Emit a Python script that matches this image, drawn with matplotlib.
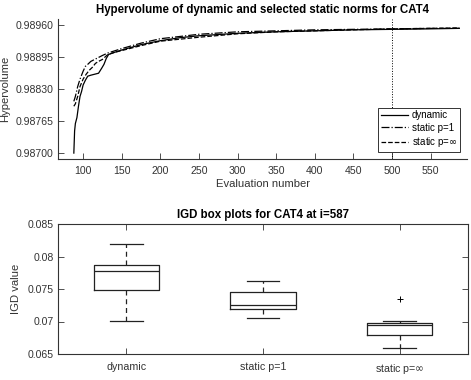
import numpy as np
import matplotlib
matplotlib.use("Agg")
import matplotlib.pyplot as plt
from matplotlib.ticker import FormatStrFormatter

plt.rcParams['font.family'] = ['Liberation Sans', 'DejaVu Sans']
plt.rcParams['mathtext.fontset'] = 'dejavusans'

# hypervolume curves
dyn_x = [88, 89, 90, 92, 94, 96, 98, 100, 103, 106, 110, 115, 120, 124, 127, 130,
         133, 140, 150, 175, 200, 225, 250, 300, 350, 400, 450, 500, 550, 587]
dyn_y = [0.98700, 0.98745, 0.98760, 0.98772, 0.98795, 0.98815, 0.98825, 0.98838,
         0.98848, 0.98856, 0.98858, 0.98860, 0.98862, 0.98872, 0.98880, 0.98892,
         0.98900, 0.98904, 0.98909, 0.98920, 0.98928, 0.98934, 0.98938, 0.98943,
         0.98946, 0.98948, 0.98950, 0.98951, 0.98952, 0.98953]

p1_x = [88, 90, 93, 96, 100, 103, 106, 110, 115, 120, 125, 132, 140, 150, 175,
        200, 250, 300, 350, 400, 450, 500, 550, 587]
p1_y = [0.98805, 0.98815, 0.98835, 0.98850, 0.98866, 0.98876, 0.98880, 0.98886,
        0.98890, 0.98894, 0.98898, 0.98903, 0.98907, 0.98912, 0.98923, 0.98932,
        0.98941, 0.98946, 0.98948, 0.98950, 0.98951, 0.98952, 0.98953, 0.98953]

pinf_x = [88, 90, 93, 96, 100, 104, 108, 112, 116, 120, 125, 132, 140, 150, 175,
          200, 250, 300, 350, 400, 450, 500, 550, 587]
pinf_y = [0.98795, 0.98800, 0.98815, 0.98835, 0.98850, 0.98860, 0.98868, 0.98874,
          0.98882, 0.98886, 0.98890, 0.98900, 0.98904, 0.98908, 0.98918, 0.98927,
          0.98935, 0.98942, 0.98946, 0.98948, 0.98950, 0.98952, 0.98953, 0.98954]

hv_yticks = [0.98700, 0.98765, 0.98830, 0.98895, 0.98960]
eval_ticks = [100, 150, 200, 250, 300, 350, 400, 450, 500, 550]
marker_eval = 500

# IGD box plot stats
box_labels = ['dynamic', 'static p=1', r'static p=$\infty$']
whislo = [0.0701, 0.0705, 0.0660]
q1 = [0.0749, 0.0720, 0.0679]
med = [0.0778, 0.0726, 0.0694]
q3 = [0.0787, 0.0745, 0.0698]
whishi = [0.0819, 0.0763, 0.0701]
fliers = [[], [], [0.0734]]
igd_yticks = [0.065, 0.07, 0.075, 0.08, 0.085]

axc = '#333333'
fig = plt.figure(figsize=(4.71, 3.80), dpi=100)

# ---- top: hypervolume ----
ax1 = fig.add_axes([58/471, 1-159/380, 409/471, 140/380])
ax1.plot(dyn_x, dyn_y, '-', color='k', lw=0.9, label='dynamic')
ax1.plot(p1_x, p1_y, '-.', color='k', lw=0.9, label='static p=1')
ax1.plot(pinf_x, pinf_y, '--', color='k', lw=0.9, label=r'static p=$\infty$')
ax1.axvline(marker_eval, color='k', ls=':', lw=0.7)
ax1.set_xlim(67.5, 597)
ax1.set_ylim(0.98688, 0.98972)
ax1.set_xticks(eval_ticks)
ax1.set_yticks(hv_yticks)
ax1.yaxis.set_major_formatter(FormatStrFormatter('%.5f'))
ax1.spines['top'].set_visible(False)
ax1.spines['right'].set_visible(False)
for s in ['left', 'bottom']:
    ax1.spines[s].set_color(axc)
    ax1.spines[s].set_linewidth(0.8)
ax1.tick_params(direction='in', length=4, width=0.6, colors=axc, labelsize=7.6, pad=3)
ax1.tick_params(axis='x', pad=5)
ax1.set_xlabel('Evaluation number', fontsize=8.1, color=axc, labelpad=2)
ax1.set_ylabel('Hypervolume', fontsize=8.1, color=axc, labelpad=4)
ax1.set_title('Hypervolume of dynamic and selected static norms for CAT4',
              fontsize=8.3, fontweight='bold', pad=4)
leg = ax1.legend(loc='lower right', fontsize=7, fancybox=False, framealpha=1,
                 edgecolor=axc, borderaxespad=0.7, handlelength=2.8,
                 borderpad=0.3, labelspacing=0.25, handletextpad=0.4)
leg.get_frame().set_linewidth(0.7)

# ---- bottom: IGD box plots ----
ax2 = fig.add_axes([58/471, 1-354/380, 410/471, 130/380])
stats = []
for i in range(len(box_labels)):
    stats.append(dict(label=box_labels[i], whislo=whislo[i], q1=q1[i], med=med[i],
                      q3=q3[i], whishi=whishi[i], fliers=fliers[i]))
ax2.bxp(stats, positions=[1, 2, 3], widths=0.48, showfliers=True,
        boxprops=dict(color='#222222', lw=0.9),
        medianprops=dict(color='#222222', lw=0.9),
        whiskerprops=dict(color='#222222', lw=0.9, ls=(0, (4, 3))),
        capprops=dict(color='#222222', lw=0.9),
        capwidths=0.24,
        flierprops=dict(marker='+', markeredgecolor='k', markersize=5, mew=0.7))
ax2.set_xlim(0.5, 3.5)
ax2.set_ylim(0.065, 0.085)
ax2.set_yticks(igd_yticks)
ax2.set_yticklabels(['0.065', '0.07', '0.075', '0.08', '0.085'])
for s in ax2.spines.values():
    s.set_color(axc)
    s.set_linewidth(0.8)
ax2.tick_params(direction='in', length=4, width=0.6, colors=axc, labelsize=7.6,
                top=True, right=True, pad=3)
ax2.tick_params(axis='x', labelsize=7.7, pad=6)
ax2.set_ylabel('IGD value', fontsize=8.1, color=axc, labelpad=5)
ax2.set_title('IGD box plots for CAT4 at i=587', fontsize=8.3, fontweight='bold', pad=4)

fig.savefig('out.png', dpi=100)
